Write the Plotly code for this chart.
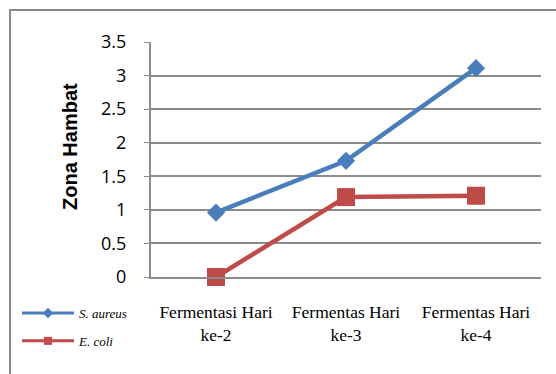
import plotly.graph_objects as go

categories = ["Fermentasi Hari<br>ke-2", "Fermentas Hari<br>ke-3", "Fermentas Hari<br>ke-4"]
s_aureus = [0.96, 1.73, 3.11]
e_coli = [0.0, 1.19, 1.21]
y_ticks = [0, 0.5, 1, 1.5, 2, 2.5, 3, 3.5]
y_tick_labels = ["0", "0.5", "1", "1.5", "2", "2.5", "3", "3.5"]

BLUE = "#4A7EBB"
RED = "#BE4B48"
GRID = "#8c8c8c"

fig = go.Figure()
fig.add_trace(go.Scatter(x=categories, y=s_aureus, mode="lines+markers", showlegend=False,
                         cliponaxis=False,
                         line=dict(color=BLUE, width=4.5),
                         marker=dict(symbol="diamond", size=14, color=BLUE)))
fig.add_trace(go.Scatter(x=categories, y=e_coli, mode="lines+markers", showlegend=False,
                         cliponaxis=False,
                         line=dict(color=RED, width=4.5),
                         marker=dict(symbol="square", size=18, color=RED)))
# legend entries
fig.add_trace(go.Scatter(x=[None], y=[None], mode="lines+markers", name="<i>S. aureus</i>",
                         legendgroup="a",
                         line=dict(color=BLUE, width=3),
                         marker=dict(symbol="diamond", size=8, color=BLUE)))
fig.add_trace(go.Scatter(x=[None], y=[None], mode="lines+markers", name="<i>E. coli</i>",
                         legendgroup="b",
                         line=dict(color=RED, width=3),
                         marker=dict(symbol="square", size=8, color=RED)))

L, R, T, B = 151, 15, 42, 97
W, H = 556, 374
pw, ph = W - L - R, H - T - B

def px_to_paper_x(px):
    return (px - L) / pw

def px_to_paper_y(py):
    return (H - B - py) / ph

fig.add_shape(type="rect", xref="paper", yref="paper",
              x0=px_to_paper_x(10), y0=px_to_paper_y(10),
              x1=px_to_paper_x(600), y1=px_to_paper_y(420),
              line=dict(color="#888888", width=2), fillcolor="rgba(0,0,0,0)", layer="below")

fig.add_annotation(text="<b>Zona Hambat</b>", xref="paper", yref="paper",
                   x=px_to_paper_x(70), y=px_to_paper_y(147), textangle=-90,
                   showarrow=False, xanchor="center", yanchor="middle",
                   font=dict(family="Liberation Sans", size=20, color="black"))

fig.update_layout(
    width=W, height=H, autosize=False,
    margin=dict(l=L, r=R, t=T, b=B, autoexpand=False),
    paper_bgcolor="white", plot_bgcolor="white",
    xaxis=dict(type="category", range=[-0.5, 2.5], showgrid=False, showline=True,
               linecolor=GRID, linewidth=2, ticks="", zeroline=False, automargin=False,
               tickfont=dict(family="Liberation Serif", size=17.5, color="black"),
               ticklabelstandoff=18),
    yaxis=dict(range=[0, 3.5], tickvals=y_ticks, ticktext=y_tick_labels,
               showgrid=True, gridcolor=GRID, gridwidth=1.5, showline=True,
               linecolor=GRID, linewidth=2, ticks="outside", ticklen=5, tickcolor=GRID,
               zeroline=False, automargin=False,
               tickfont=dict(family="Open Sans", size=18, color="black"),
               ticklabelstandoff=14),
    legend=dict(xref="container", yref="container", x=17 / W, y=1 - 298 / H,
                xanchor="left", yanchor="top", itemwidth=52, tracegroupgap=8,
                font=dict(family="Liberation Serif", size=13, color="black"),
                bgcolor="rgba(0,0,0,0)"),
)

fig.write_html("out.html", config={"displayModeBar": False},
               post_script="document.body.style.margin='0px';document.body.style.overflow='hidden';")
